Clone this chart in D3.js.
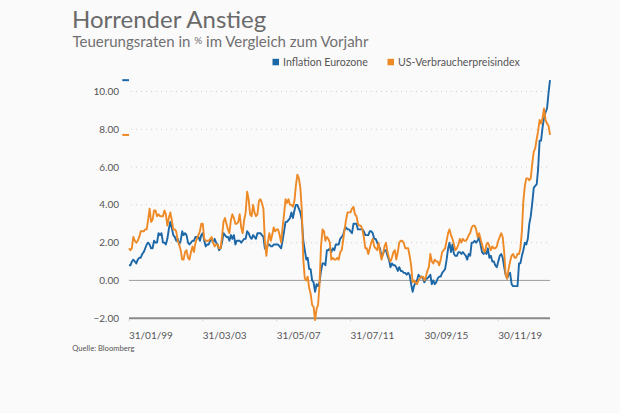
<!DOCTYPE html>
<html>
<head>
<meta charset="utf-8">
<script src="https://cdn.jsdelivr.net/npm/d3@7/dist/d3.min.js"></script>
<style>
  html, body { margin: 0; padding: 0; background: #fbfafb; }
  svg { display: block; font-family: Lato, "Open Sans", sans-serif; }
</style>
</head>
<body>
<svg id="chart" width="620" height="413"></svg>
<script>
// ---- Data (monthly year-on-year inflation, Jan 1999 - Oct 2022) ----
const startMonth = "1999-01";
const seriesNames = ["Inflation Eurozone", "US-Verbraucherpreisindex"];
const seriesColors = ["#1c67a6", "#ee8a26"];

const eurozone = [
  0.8,0.8,1.0,1.1,1.0,0.9,1.1,1.2,1.2,1.4,1.5,1.7,
  1.9,2.0,1.9,1.7,1.7,2.1,2.0,2.0,2.5,2.4,2.5,2.0,
  2.0,1.9,2.2,2.7,3.1,2.8,2.4,2.3,2.1,2.2,1.9,2.1,
  2.6,2.4,2.5,2.4,2.0,1.9,2.0,2.1,2.1,2.3,2.3,2.3,
  2.1,2.4,2.5,2.1,1.8,1.9,1.9,2.1,2.2,2.0,2.2,2.0,
  1.9,1.6,1.7,2.0,2.5,2.4,2.3,2.3,2.1,2.4,2.2,2.4,
  1.9,2.1,2.1,2.1,2.0,2.1,2.2,2.2,2.6,2.5,2.3,2.2,
  2.4,2.3,2.2,2.5,2.5,2.5,2.4,2.3,1.7,1.6,1.9,1.9,
  1.8,1.8,1.9,1.9,1.9,1.9,1.8,1.7,2.1,2.6,3.1,3.1,
  3.2,3.3,3.6,3.3,3.7,4.0,4.0,3.8,3.6,3.2,2.1,1.6,
  1.1,1.2,0.6,0.6,0.0,-0.1,-0.6,-0.2,-0.3,-0.1,0.5,0.9,
  0.9,0.8,1.6,1.6,1.7,1.5,1.7,1.6,1.9,1.9,1.9,2.2,
  2.3,2.4,2.7,2.8,2.7,2.7,2.6,2.5,3.0,3.0,3.0,2.7,
  2.7,2.7,2.7,2.6,2.4,2.4,2.4,2.6,2.6,2.5,2.2,2.2,
  2.0,1.8,1.7,1.2,1.4,1.6,1.6,1.3,1.1,0.7,0.9,0.8,
  0.8,0.7,0.5,0.7,0.5,0.5,0.4,0.4,0.3,0.4,0.3,-0.2,
  -0.6,-0.3,-0.1,0.0,0.3,0.2,0.2,0.1,-0.1,0.1,0.1,0.2,
  0.3,-0.2,0.0,-0.2,-0.1,0.1,0.2,0.2,0.4,0.5,0.6,1.1,
  1.7,2.0,1.5,1.9,1.4,1.3,1.3,1.5,1.5,1.4,1.5,1.4,
  1.3,1.1,1.4,1.3,2.0,2.0,2.1,2.0,2.1,2.3,1.9,1.5,
  1.4,1.5,1.4,1.7,1.2,1.3,1.0,1.0,0.8,0.7,1.0,1.3,
  1.4,1.2,0.7,0.3,0.1,0.3,0.4,-0.2,-0.3,-0.3,-0.3,-0.3,
  0.9,0.9,1.3,1.6,2.0,1.9,2.2,3.0,3.4,4.1,4.9,5.0,
  5.1,5.9,7.4,7.4,8.1,8.6,8.9,9.1,9.9,10.6
];

const usCpi = [
  1.7,1.6,1.7,2.3,2.1,2.0,2.1,2.3,2.6,2.6,2.6,2.7,
  2.7,3.2,3.8,3.1,3.2,3.7,3.7,3.4,3.5,3.4,3.4,3.4,
  3.7,3.5,2.9,3.3,3.6,3.2,2.7,2.7,2.6,2.1,1.9,1.6,
  1.1,1.1,1.5,1.6,1.2,1.1,1.5,1.8,1.5,2.0,2.2,2.4,
  2.6,3.0,3.0,2.2,2.1,2.1,2.1,2.2,2.3,2.0,1.8,1.9,
  1.9,1.7,1.7,2.3,3.1,3.3,3.0,2.7,2.5,3.2,3.5,3.3,
  3.0,3.0,3.1,3.5,2.8,2.5,3.2,3.6,4.7,4.3,3.5,3.4,
  4.0,3.6,3.4,3.5,4.2,4.3,4.1,3.8,2.1,1.3,2.0,2.5,
  2.1,2.4,2.8,2.6,2.7,2.7,2.4,2.0,2.8,3.5,4.3,4.1,
  4.3,4.0,4.0,3.9,4.2,5.0,5.6,5.4,4.9,3.7,1.1,0.1,
  0.0,0.2,-0.4,-0.7,-1.3,-1.4,-2.1,-1.5,-1.3,-0.2,1.8,2.7,
  2.6,2.1,2.3,2.2,2.0,1.1,1.2,1.1,1.1,1.2,1.1,1.5,
  1.6,2.1,2.7,3.2,3.6,3.6,3.6,3.8,3.9,3.5,3.4,3.0,
  2.9,2.9,2.7,2.3,1.7,1.7,1.4,1.7,2.0,2.2,1.8,1.7,
  1.6,2.0,1.5,1.1,1.4,1.8,2.0,1.5,1.2,1.0,1.2,1.5,
  1.6,1.1,1.5,2.0,2.1,2.1,2.0,1.7,1.7,1.7,1.3,0.8,
  -0.1,0.0,-0.1,-0.2,0.0,0.1,0.2,0.2,0.0,0.2,0.5,0.7,
  1.4,1.0,0.9,1.1,1.0,1.0,0.8,1.1,1.5,1.6,1.7,2.1,
  2.5,2.7,2.4,2.2,1.9,1.6,1.7,1.9,2.2,2.0,2.2,2.1,
  2.1,2.2,2.4,2.5,2.8,2.9,2.9,2.7,2.3,2.5,2.2,1.9,
  1.6,1.5,1.9,2.0,1.8,1.6,1.8,1.7,1.7,1.8,2.1,2.3,
  2.5,2.3,1.5,0.3,0.1,0.6,1.0,1.3,1.4,1.2,1.2,1.4,
  1.4,1.7,2.6,4.2,5.0,5.4,5.4,5.3,5.4,6.2,6.8,7.0,
  7.5,7.9,8.5,8.3,8.6,9.1,8.5,8.3,8.2,7.7
];

const yTicks = [-2, 0, 2, 4, 6, 8, 10];
const xTickDates = ["1999-01-31", "2003-03-31", "2007-05-31", "2011-07-31", "2015-09-30", "2019-11-30"];
const xTickLabels = ["31/01/99", "31/03/03", "31/05/07", "31/07/11", "30/09/15", "30/11/19"];

const titleText = "Horrender Anstieg";
const subtitleBefore = "Teuerungsraten in ";
const subtitlePct = "%";
const subtitleAfter = " im Vergleich zum Vorjahr";
const sourceText = "Quelle: Bloomberg";

// ---- Build ----
const parse = d3.utcParse("%Y-%m-%d");
const start = d3.utcParse("%Y-%m")(startMonth);
// month-end dates
const dates = eurozone.map((_, i) => d3.utcDay.offset(d3.utcMonth.offset(start, i + 1), -1));
const series = [eurozone, usCpi];

const svg = d3.select("#chart");

const x = d3.scaleUtc()
  .domain([dates[0], dates[dates.length - 1]])
  .range([129, 550]);
const y = d3.scaleLinear().domain([-2, 10]).range([318.2, 91.5]);

// Title
svg.append("text").attr("x", 72).attr("y", 27.5)
  .attr("font-size", 24).attr("font-weight", 400).attr("fill", "#6a6a6a").text(titleText);
const sub = svg.append("text").attr("x", 72.5).attr("y", 46.5)
  .attr("font-size", 15).attr("fill", "#707070");
sub.append("tspan").text(subtitleBefore);
sub.append("tspan").attr("font-size", 10).attr("dy", -3).text(subtitlePct);
sub.append("tspan").attr("dy", 3).text(subtitleAfter);

// Legend
const legendX = [272.5, 387.5];
seriesNames.forEach((n, i) => {
  svg.append("rect").attr("x", legendX[i]).attr("y", 58.8).attr("width", 6.5).attr("height", 6.5)
    .attr("fill", seriesColors[i]);
  svg.append("text").attr("x", legendX[i] + 10.5).attr("y", 65.6)
    .attr("font-size", 10.6).attr("fill", "#555").text(n);
});

// Grid lines
yTicks.forEach(t => {
  const g = svg.append("line")
    .attr("x1", t === 0 || t === -2 ? 129 : 131).attr("x2", 550)
    .attr("y1", y(t)).attr("y2", y(t));
  if (t === 0) g.attr("stroke", "#9d9d9d").attr("stroke-width", 1);
  else if (t === -2) g.attr("stroke", "#8a8a8a").attr("stroke-width", 2);
  else g.attr("stroke", "#cfcfcf").attr("stroke-width", 1).attr("stroke-dasharray", "1,4");
});

// Y labels
yTicks.forEach(t => {
  svg.append("text").attr("x", 119).attr("y", y(t)).attr("dy", "0.35em")
    .attr("text-anchor", "end").attr("font-size", 10).attr("fill", "#555")
    .text(d3.format(".2f")(t));
});

// X ticks & labels
xTickDates.forEach((d, i) => {
  const px = x(parse(d));
  svg.append("line").attr("x1", px).attr("x2", px).attr("y1", y(-2) + 1).attr("y2", y(-2) + 3)
    .attr("stroke", "#d0d0d0").attr("stroke-width", 1);
  svg.append("text").attr("x", px).attr("y", 339.3)
    .attr("font-size", 10).attr("fill", "#555").text(xTickLabels[i]);
});

// Lines
const line = d3.line().x((d, i) => x(dates[i])).y(d => y(d));
series.forEach((s, i) => {
  svg.append("path").datum(s).attr("d", line)
    .attr("fill", "none").attr("stroke", seriesColors[i])
    .attr("stroke-width", 1.9).attr("stroke-linejoin", "round");
});

// Last-value markers at left
series.forEach((s, i) => {
  svg.append("line").attr("x1", 122.3).attr("x2", 129)
    .attr("y1", y(s[s.length - 1])).attr("y2", y(s[s.length - 1]))
    .attr("stroke", seriesColors[i]).attr("stroke-width", 2);
});

// Source
svg.append("text").attr("x", 72.3).attr("y", 350.5)
  .attr("font-size", 7.6).attr("fill", "#555").text(sourceText);
</script>
</body>
</html>
